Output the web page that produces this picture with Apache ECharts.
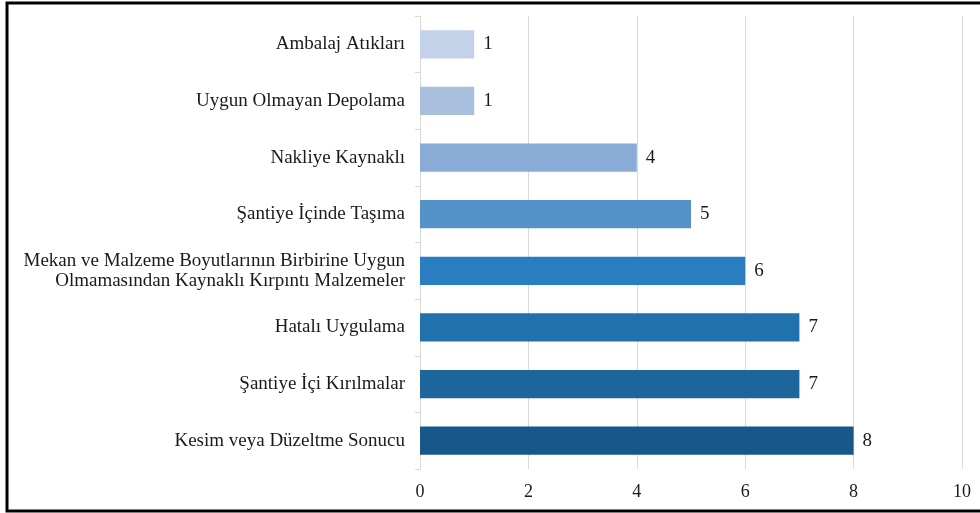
<!DOCTYPE html>
<html>
<head>
<meta charset="utf-8">
<script src="https://cdn.jsdelivr.net/npm/echarts@6/dist/echarts.min.js"></script>
<style>
  html, body { margin: 0; padding: 0; background: #fff; }
  #chart { width: 980px; height: 513px; }
</style>
</head>
<body>
<div id="chart"></div>
<script>
// Waste sources, listed top to bottom
const categories = [
  'Ambalaj Atıkları',
  'Uygun Olmayan Depolama',
  'Nakliye Kaynaklı',
  'Şantiye İçinde Taşıma',
  'Mekan ve Malzeme Boyutlarının Birbirine Uygun\nOlmamasından Kaynaklı Kırpıntı Malzemeler',
  'Hatalı Uygulama',
  'Şantiye İçi Kırılmalar',
  'Kesim veya Düzeltme Sonucu'
];
const values = [1, 1, 4, 5, 6, 7, 7, 8];
const xTicks = [0, 2, 4, 6, 8, 10];

// Light-to-dark blue ramp, one shade per bar
const barColors = ['#c3d2e8', '#a9bfde', '#89abd5', '#5592c9', '#2a7dc1', '#2171ad', '#1e659c', '#18578a'];

const font = '"Liberation Serif", "Times New Roman", serif';
const textColor = '#1a1a1a';

const chart = echarts.init(document.getElementById('chart'));
chart.setOption({
  backgroundColor: '#fff',
  animation: false,
  grid: { left: 420, right: 18, top: 16, bottom: 44, containLabel: false },
  graphic: [{
    type: 'rect',
    shape: { x: 7, y: 3, width: 1000, height: 508 },
    style: { fill: 'none', stroke: '#000', lineWidth: 3 },
    silent: true
  }],
  xAxis: {
    type: 'value',
    min: xTicks[0],
    max: xTicks[xTicks.length - 1],
    interval: xTicks[1] - xTicks[0],
    axisLine: { show: false },
    axisTick: { show: false },
    splitLine: { lineStyle: { color: '#d9d9d9', width: 1 } },
    axisLabel: { fontFamily: font, fontSize: 18, color: textColor, margin: 14 }
  },
  yAxis: {
    type: 'category',
    inverse: true,
    data: categories,
    axisLine: { lineStyle: { color: '#d9d9d9', width: 1 } },
    axisTick: { show: true, length: 5, lineStyle: { color: '#d9d9d9' } },
    axisLabel: {
      fontFamily: font, fontSize: 19, color: textColor, margin: 15,
      align: 'right', lineHeight: 20
    }
  },
  series: [{
    type: 'bar',
    barCategoryGap: '50%',
    data: values.map((v, i) => ({ value: v, itemStyle: { color: barColors[i] } })),
    label: {
      show: true, position: 'right', distance: 9,
      fontFamily: font, fontSize: 19, color: textColor
    }
  }]
});
</script>
</body>
</html>
